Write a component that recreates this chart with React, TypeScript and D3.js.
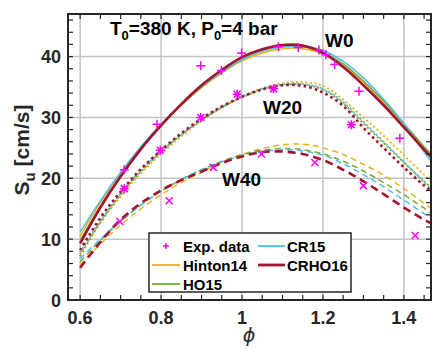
import React from "react";
import * as d3 from "d3";

// phi grid at which model curves are read
const phiGrid = [0.6, 0.65, 0.7, 0.75, 0.8, 0.85, 0.9, 0.95, 1.0, 1.05, 1.1, 1.15, 1.2, 1.25, 1.3, 1.35, 1.4, 1.45, 1.47];

// W0 (solid)
const w0Hinton14 = [10.5, 16.0, 20.8, 25.0, 28.7, 32.0, 34.9, 37.3, 39.3, 40.6, 41.3, 41.3, 40.4, 38.5, 35.8, 32.5, 28.8, 24.8, 23.2];
const w0HO15 = [9.8, 15.4, 20.4, 24.8, 28.6, 32.0, 35.0, 37.5, 39.5, 40.9, 41.6, 41.6, 40.7, 38.8, 36.0, 32.7, 29.0, 25.2, 23.8];
const w0CR15 = [11.2, 16.3, 21.0, 25.2, 28.9, 32.2, 35.1, 37.5, 39.5, 40.9, 41.6, 41.7, 41.0, 39.2, 36.5, 33.0, 29.0, 24.3, 22.5];
const w0CRHO16 = [9.3, 15.2, 20.3, 24.8, 28.7, 32.2, 35.3, 37.8, 39.9, 41.2, 41.9, 41.8, 40.6, 38.3, 35.3, 32.0, 28.4, 24.7, 23.3];

// W20 (dotted)
const w20Hinton14 = [7.5, 12.7, 17.0, 20.8, 24.0, 26.9, 29.4, 31.6, 33.4, 34.8, 35.6, 35.8, 35.2, 32.9, 30.0, 27.0, 23.8, 20.6, 19.3];
const w20HO15 = [7.2, 12.8, 17.3, 21.1, 24.3, 27.2, 29.6, 31.7, 33.3, 34.6, 35.3, 35.4, 34.6, 32.3, 29.0, 25.8, 22.6, 19.5, 18.3];
const w20CR15 = [7.8, 13.0, 17.5, 21.3, 24.4, 27.2, 29.6, 31.7, 33.4, 34.7, 35.4, 35.5, 34.7, 32.5, 29.3, 26.0, 22.7, 19.3, 18.0];
const w20CRHO16 = [8.2, 13.5, 17.8, 21.5, 24.6, 27.4, 29.8, 31.8, 33.4, 34.6, 35.3, 35.2, 34.1, 31.9, 28.3, 25.0, 21.8, 18.8, 17.8];

// W40 (dashed)
const w40Hinton14 = [5.8, 9.2, 12.3, 15.0, 17.3, 19.3, 21.0, 22.6, 23.9, 24.9, 25.5, 25.6, 25.0, 23.9, 22.3, 20.5, 18.3, 15.9, 14.9];
const w40HO15 = [6.3, 9.8, 12.9, 15.6, 17.9, 19.8, 21.4, 22.8, 23.9, 24.6, 24.9, 24.7, 24.0, 22.8, 21.2, 19.3, 17.3, 15.1, 14.2];
const w40CR15 = [6.8, 10.0, 13.0, 15.6, 17.9, 19.8, 21.4, 22.7, 23.7, 24.4, 24.7, 24.5, 23.8, 22.4, 20.6, 18.6, 16.4, 14.2, 13.3];
const w40CRHO16 = [5.3, 9.5, 13.2, 15.9, 18.0, 19.7, 21.1, 22.5, 23.6, 24.3, 24.4, 24.0, 23.0, 21.4, 19.5, 17.4, 15.2, 13.2, 12.5];

// experimental data
const expW0Phi = [0.709, 0.79, 0.898, 0.949, 0.999, 1.09, 1.139, 1.19, 1.207, 1.229, 1.289, 1.39];
const expW0Su = [21.4, 28.9, 38.5, 37.7, 40.6, 41.6, 41.5, 41.1, 40.3, 38.7, 34.3, 26.6];
const expW20Phi = [0.709, 0.798, 0.898, 0.988, 1.078, 1.27];
const expW20Su = [18.3, 24.6, 30.0, 33.8, 34.7, 28.8];
const expW40Phi = [0.698, 0.82, 0.929, 1.048, 1.18, 1.30, 1.428];
const expW40Su = [12.9, 16.3, 21.8, 24.0, 22.6, 18.8, 10.6];

const xTicks = [0.6, 0.8, 1.0, 1.2, 1.4];
const xTickLabels = ["0.6", "0.8", "1", "1.2", "1.4"];
const xMinor = [0.6, 0.65, 0.7, 0.75, 0.8, 0.85, 0.9, 0.95, 1.0, 1.05, 1.1, 1.15, 1.2, 1.25, 1.3, 1.35, 1.4, 1.45];
const yTicks = [0, 10, 20, 30, 40];
const yMinor = d3.range(0, 47, 2);

const COL = {
  hinton: "#EDB120",
  ho: "#77AC30",
  cr: "#4DBEEE",
  crho: "#A2142F",
  exp: "#FF00FF",
};

const L = 68, R = 431, T = 14, B = 300;
const FONT = "'Liberation Sans', Arial, sans-serif";
const AX = "#262626";

export default function App() {
  const x = d3.scaleLinear().domain([0.57, 1.467]).range([L, R]);
  const y = d3.scaleLinear().domain([0, 47]).range([B, T]);
  const line = d3
    .line<number>()
    .x((_, i) => x(phiGrid[i]))
    .y((d) => y(d))
    .curve(d3.curveCatmullRom.alpha(0.5));

  type S = { data: number[]; color: string; w: number; dash?: string };
  const series: S[] = [
    { data: w0Hinton14, color: COL.hinton, w: 1.5 },
    { data: w0HO15, color: COL.ho, w: 1.5 },
    { data: w0CR15, color: COL.cr, w: 1.5 },
    { data: w0CRHO16, color: COL.crho, w: 2.6 },
    { data: w20Hinton14, color: COL.hinton, w: 2, dash: "2 2.6" },
    { data: w20HO15, color: COL.ho, w: 2, dash: "2 2.6" },
    { data: w20CR15, color: COL.cr, w: 2, dash: "2 2.6" },
    { data: w20CRHO16, color: COL.crho, w: 2.6, dash: "2.6 3.2" },
    { data: w40Hinton14, color: COL.hinton, w: 1.5, dash: "6 4" },
    { data: w40HO15, color: COL.ho, w: 1.5, dash: "6 4" },
    { data: w40CR15, color: COL.cr, w: 1.5, dash: "6 4" },
    { data: w40CRHO16, color: COL.crho, w: 2.6, dash: "8 5" },
  ];

  const plus = (cx: number, cy: number, s: number) => `M${cx - s},${cy}H${cx + s}M${cx},${cy - s}V${cy + s}`;
  const cross = (cx: number, cy: number, s: number) =>
    `M${cx - s},${cy - s}L${cx + s},${cy + s}M${cx - s},${cy + s}L${cx + s},${cy - s}`;

  const tickLen = 5;

  return (
    <svg width={432} height={349} style={{ position: "absolute", left: 0, top: 0, background: "#fff" }} fontFamily={FONT}>
      <defs>
        <clipPath id="plotclip">
          <rect x={L} y={T} width={R - L} height={B - T} />
        </clipPath>
      </defs>
      <rect x={0} y={0} width={432} height={349} fill="#fff" />
      {/* grid */}
      {xTicks.map((t) => (
        <line key={"gx" + t} x1={x(t)} x2={x(t)} y1={T} y2={B} stroke="#c4c4c4" strokeWidth={1.5} />
      ))}
      {yTicks.slice(1).map((t) => (
        <line key={"gy" + t} x1={L} x2={R} y1={y(t)} y2={y(t)} stroke="#c4c4c4" strokeWidth={1.5} />
      ))}
      {/* curves */}
      <g clipPath="url(#plotclip)">
        {series.map((s, i) => (
          <path
            key={i}
            d={line(s.data) || ""}
            fill="none"
            stroke={s.color}
            strokeWidth={s.w}
            strokeDasharray={s.dash}
          />
        ))}
        {expW0Phi.map((p, i) => (
          <path key={"e0" + i} d={plus(x(p), y(expW0Su[i]), 4.5)} stroke={COL.exp} strokeWidth={1.5} fill="none" />
        ))}
        {expW20Phi.map((p, i) => (
          <path
            key={"e20" + i}
            d={plus(x(p), y(expW20Su[i]), 4.5) + cross(x(p), y(expW20Su[i]), 3.5)}
            stroke={COL.exp}
            strokeWidth={1.5}
            fill="none"
          />
        ))}
        {expW40Phi.map((p, i) => (
          <path key={"e40" + i} d={cross(x(p), y(expW40Su[i]), 3.5)} stroke={COL.exp} strokeWidth={1.5} fill="none" />
        ))}
      </g>
      {/* ticks */}
      {xMinor.map((t) => (
        <g key={"xt" + t} stroke={AX} strokeWidth={1.2}>
          <line x1={x(t)} x2={x(t)} y1={B} y2={B - tickLen} />
          <line x1={x(t)} x2={x(t)} y1={T} y2={T + tickLen} />
        </g>
      ))}
      {yMinor.map((t) => (
        <g key={"yt" + t} stroke={AX} strokeWidth={1.2}>
          <line x1={L} x2={L + tickLen} y1={y(t)} y2={y(t)} />
          <line x1={R} x2={R - tickLen} y1={y(t)} y2={y(t)} />
        </g>
      ))}
      {/* box */}
      <rect x={L} y={T} width={R - L} height={B - T} fill="none" stroke={AX} strokeWidth={2} />
      {/* tick labels */}
      {xTicks.map((t, i) => (
        <text key={"xl" + t} x={x(t)} y={324} textAnchor="middle" fontSize={18} fontWeight="bold" fill={AX}>
          {xTickLabels[i]}
        </text>
      ))}
      {yTicks.map((t) => (
        <text key={"yl" + t} x={61} y={y(t) + 6.5} textAnchor="end" fontSize={18} fontWeight="bold" fill={AX}>
          {t}
        </text>
      ))}
      {/* axis labels */}
      <text x={249} y={342} textAnchor="middle" fontSize={19} fontStyle="italic" fill={AX} fontFamily="'DejaVu Sans', sans-serif">
        ϕ
      </text>
      <text transform="translate(29,150) rotate(-90)" textAnchor="middle" fontSize={21} fontWeight="bold" fill={AX}>
        S<tspan fontSize={15} dy={6}>u</tspan>
        <tspan dy={-6}> [cm/s]</tspan>
      </text>
      {/* annotations */}
      <text x={110} y={35} fontSize={19} fontWeight="bold" fill="#000">
        T<tspan fontSize={13} dy={5}>0</tspan>
        <tspan dy={-5}>=380 K, P</tspan>
        <tspan fontSize={13} dy={5}>0</tspan>
        <tspan dy={-5}>=4 bar</tspan>
      </text>
      <text x={325} y={47} fontSize={19} fontWeight="bold" fill="#000">W0</text>
      <text x={263} y={114} fontSize={19} fontWeight="bold" fill="#000">W20</text>
      <text x={222} y={186} fontSize={19} fontWeight="bold" fill="#000">W40</text>
      {/* legend */}
      <g>
        <rect x={149} y={233} width={202} height={59} fill="#fff" stroke={AX} strokeWidth={1.5} />
        <path d={plus(166, 246, 3)} stroke={COL.exp} strokeWidth={1.5} />
        <text x={183} y={251.5} fontSize={15} fontWeight="bold" fill="#000">Exp. data</text>
        <line x1={152} x2={180} y1={265} y2={265} stroke={COL.hinton} strokeWidth={1.8} />
        <text x={183} y={270.5} fontSize={15} fontWeight="bold" fill="#000">Hinton14</text>
        <line x1={152} x2={180} y1={284} y2={284} stroke={COL.ho} strokeWidth={1.8} />
        <text x={183} y={289.5} fontSize={15} fontWeight="bold" fill="#000">HO15</text>
        <line x1={258} x2={285} y1={246} y2={246} stroke={COL.cr} strokeWidth={1.8} />
        <text x={287} y={251.5} fontSize={15} fontWeight="bold" fill="#000">CR15</text>
        <line x1={258} x2={285} y1={265} y2={265} stroke={COL.crho} strokeWidth={2.8} />
        <text x={287} y={270.5} fontSize={15} fontWeight="bold" fill="#000">CRHO16</text>
      </g>
    </svg>
  );
}
